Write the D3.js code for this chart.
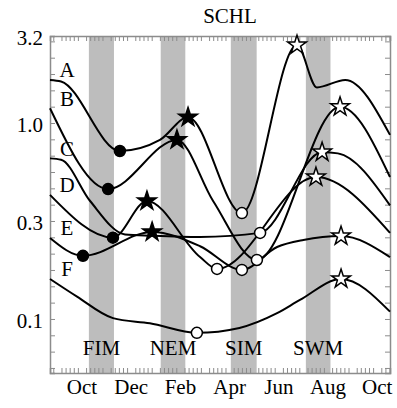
<!DOCTYPE html>
<html>
<head>
<meta charset="utf-8">
<script src="https://cdn.jsdelivr.net/npm/d3@7"></script>
<style>
  body { margin: 0; background: #fff; }
  svg text { font-family: "Liberation Serif", "DejaVu Serif", serif; fill: #000; }
</style>
</head>
<body>
<svg id="chart" width="397" height="408"></svg>
<script>
// month index: 0 = Oct, 12 = Oct of next year
const monthLabels = ['Oct', 'Dec', 'Feb', 'Apr', 'Jun', 'Aug', 'Oct'];
const monthTicks = [0, 2, 4, 6, 8, 10, 12];

const yTickLabels = ['0.1', '0.3', '1.0', '3.2'];
const yTickValues = [0.1, 0.316, 1.0, 2.78];

const seasonNames = ['FIM', 'NEM', 'SIM', 'SWM'];
const seasonStart = [0.28, 3.2, 6.05, 9.1];
const seasonEnd = [1.3, 4.2, 7.1, 10.1];

const seriesNames = ['A', 'B', 'C', 'D', 'E', 'F'];
// [month, chl, marker]  lo1/hi1 = first low/high, lo2/hi2 = second low/high
const seriesA = [[-1.3, 1.66], [-0.85, 1.63], [1.54, 0.72, 'lo1'], [3.17, 0.82], [4.31, 1.07, 'hi1'],
  [6.5, 0.347, 'lo2'], [8.74, 2.5, 'hi2'], [9.55, 1.52], [10.7, 1.66], [12.52, 0.87]];
const seriesB = [[-1.3, 1.19], [1.06, 0.46, 'lo1'], [3.86, 0.82, 'hi1'], [5.33, 0.40],
  [7.11, 0.20, 'lo2'], [10.49, 1.21, 'hi2'], [12.52, 0.53]];
const seriesC = [[-1.3, 0.66], [-0.85, 0.65], [0.33, 0.40], [1.75, 0.27], [2.85, 0.266], [4.8, 0.262],
  [7.24, 0.275, 'lo2'], [9.76, 0.71, 'hi2'], [10.4, 0.70], [12.52, 0.38]];
const seriesD = [[-1.3, 0.43], [1.26, 0.26, 'lo1'], [2.64, 0.40, 'hi1'], [4.8, 0.207],
  [5.49, 0.18, 'lo2'], [9.51, 0.53, 'hi2'], [12.52, 0.275]];
const seriesE = [[-1.3, 0.259], [0.04, 0.21, 'lo1'], [2.85, 0.278, 'hi1'], [4.8, 0.235],
  [6.5, 0.178, 'lo2'], [7.93, 0.233], [9.0, 0.253], [10.53, 0.265, 'hi2'], [12.52, 0.207]];
const seriesF = [[-1.3, 0.16], [-0.2, 0.13], [1.26, 0.101], [2.76, 0.095], [4.67, 0.085, 'lo2'],
  [6.4, 0.09], [7.93, 0.107], [8.86, 0.125], [10.53, 0.16, 'hi2'], [12.52, 0.109]];
const allSeries = [seriesA, seriesB, seriesC, seriesD, seriesE, seriesF];

const svg = d3.select('#chart');
const plotLeft = 50;
const plotRight = 390;
const plotTop = 36;
const plotBottom = 373;

const x = d3.scaleLinear().domain([-1.3, 12.52]).range([plotLeft, plotRight]);
const y = d3.scaleLog().domain([0.053, 2.78]).range([plotBottom, plotTop]);

// season bands
svg.append('g')
  .selectAll('rect')
  .data(seasonNames)
  .enter()
  .append('rect')
  .attr('x', (d, i) => x(seasonStart[i]))
  .attr('y', plotTop)
  .attr('width', (d, i) => x(seasonEnd[i]) - x(seasonStart[i]))
  .attr('height', plotBottom - plotTop)
  .attr('fill', '#bdbdbd');

svg.append('g')
  .selectAll('text')
  .data(seasonNames)
  .enter()
  .append('text')
  .attr('x', (d, i) => x((seasonStart[i] + seasonEnd[i]) / 2))
  .attr('y', 355)
  .attr('text-anchor', 'middle')
  .attr('font-size', '21px')
  .text((d) => d);

// axes frame + ticks
const minorX = [];
for (let m = -2; m <= 12; m += 1) {
  for (let k = 1; k <= 5; k += 1) {
    const v = m + k / 6;
    if (v > x.domain()[0] && v < x.domain()[1]) minorX.push(v);
  }
}
const minorY = d3.range(-15, 6).map((k) => 10 ** (k / 12));

const axisColor = '#8c8c8c';
const bottomAxis = svg.append('g')
  .attr('transform', `translate(0,${plotBottom})`)
  .call(d3.axisBottom(x).tickValues(minorX).tickSize(-5).tickFormat(''));
const topAxis = svg.append('g')
  .attr('transform', `translate(0,${plotTop})`)
  .call(d3.axisTop(x).tickValues(minorX).tickSize(-5).tickFormat(''));
const leftAxis = svg.append('g')
  .attr('transform', `translate(${plotLeft},0)`)
  .call(d3.axisLeft(y).tickValues(minorY).tickSize(-5).tickFormat(''));
const rightAxis = svg.append('g')
  .attr('transform', `translate(${plotRight},0)`)
  .call(d3.axisRight(y).tickValues(minorY).tickSize(-5).tickFormat(''));
[bottomAxis, topAxis, leftAxis, rightAxis].forEach((a) => {
  a.selectAll('path').attr('stroke', axisColor).attr('stroke-width', 1.5);
  a.selectAll('line').attr('stroke', axisColor).attr('stroke-width', 1);
});

// tick labels
svg.append('g')
  .selectAll('text')
  .data(yTickLabels)
  .enter()
  .append('text')
  .attr('x', 43)
  .attr('y', (d, i) => y(yTickValues[i]) + 2)
  .attr('dy', '0.35em')
  .attr('text-anchor', 'end')
  .attr('font-size', '21px')
  .text((d) => d);

svg.append('g')
  .selectAll('text')
  .data(monthLabels)
  .enter()
  .append('text')
  .attr('x', (d, i) => x(monthTicks[i]))
  .attr('y', 394)
  .attr('text-anchor', 'middle')
  .attr('font-size', '21px')
  .text((d) => d);

svg.append('text')
  .attr('x', 230)
  .attr('y', 23)
  .attr('text-anchor', 'middle')
  .attr('font-size', '21px')
  .text('SCHL');

// curves
const line = d3.line()
  .x((d) => x(d[0]))
  .y((d) => y(d[1]))
  .curve(d3.curveMonotoneX);

svg.append('g')
  .selectAll('path')
  .data(allSeries)
  .enter()
  .append('path')
  .attr('d', line)
  .attr('fill', 'none')
  .attr('stroke', '#000')
  .attr('stroke-width', 2);

// series labels
svg.append('g')
  .selectAll('text')
  .data(seriesNames)
  .enter()
  .append('text')
  .attr('x', 67)
  .attr('y', (d, i) => y(allSeries[i][0][1]) - 10)
  .attr('dy', '0.35em')
  .attr('text-anchor', 'middle')
  .attr('font-size', '21px')
  .text((d) => d);

// markers
const marks = [];
allSeries.forEach((s) => s.forEach((p) => { if (p[2]) marks.push(p); }));

const filled = (d) => d[2] === 'lo1' || d[2] === 'hi1';
const isStar = (d) => d[2] === 'hi1' || d[2] === 'hi2';

svg.append('g')
  .selectAll('path')
  .data(marks)
  .enter()
  .append('path')
  .attr('transform', (d) => `translate(${x(d[0])},${y(d[1])})`)
  .attr('d', (d) => d3.symbol()
    .type(isStar(d) ? d3.symbolStar : d3.symbolCircle)
    .size(isStar(d) ? 110 : 95)())
  .attr('fill', (d) => (filled(d) ? '#000' : '#fff'))
  .attr('stroke', '#000')
  .attr('stroke-width', 1.5);
</script>
</body>
</html>
